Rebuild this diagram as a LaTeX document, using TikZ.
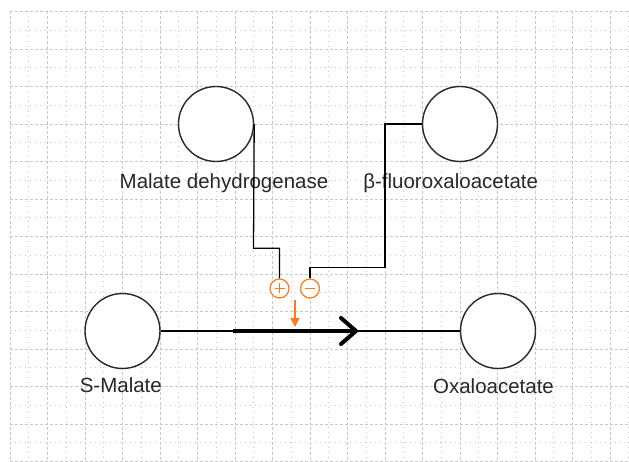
\documentclass[tikz,border=0pt]{standalone}
\usepackage{fontspec}
\setmainfont{Liberation Sans}
\usetikzlibrary{arrows.meta,calc}
\definecolor{gridc}{RGB}{200,200,200}
\definecolor{effc}{RGB}{255,122,30}
\definecolor{inkc}{RGB}{40,40,40}
\tikzset{
  majorgrid/.style={gridc, line width=0.9pt, dash pattern=on 3pt off 2pt},
  minorgrid/.style={gridc, line width=0.9pt, dash pattern=on 1pt off 4pt},
  species/.style={circle, draw=inkc, fill=white, line width=1.4pt, minimum size=75pt, inner sep=0pt},
  effector/.style={circle, draw=effc, fill=white, line width=1.2pt, minimum size=19pt, inner sep=0pt},
  caption/.style={anchor=base, text=inkc, inner sep=0pt, font=\fontsize{20.5}{24}\selectfont},
  link/.style={black, line width=1.3pt},
  reaction/.style={black, line width=4pt, -{Straight Barb[length=15pt, width=26pt, line cap=round, line join=round]}},
  influence/.style={effc, line width=1.5pt, -{Triangle[length=9pt, width=9pt]}}
}
\begin{document}
\begin{tikzpicture}[x=1pt, y=-1pt]
\useasboundingbox (0,0) rectangle (629,462);
\fill[white] (0,0) rectangle (629,462);

% background grid: dashed major lines, dotted mid lines
\foreach \k in {0,...,16} {
  \draw[majorgrid] (10+37.5*\k,11.5) -- (10+37.5*\k,462);
  \draw[minorgrid] (28.75+37.5*\k,11.5) -- (28.75+37.5*\k,462);
}
\foreach \k in {0,...,12} {
  \draw[majorgrid] (10,11.5+37.5*\k) -- (629,11.5+37.5*\k);
}
\foreach \k in {0,...,11} {
  \draw[minorgrid] (10,30.25+37.5*\k) -- (629,30.25+37.5*\k);
}

% captions
\node[caption] (lmd) at (224,188.5) {Malate dehydrogenase};
\node[caption] (lfo) at (450.7,188.5) {β-fluoroxaloacetate};
\node[caption] (lsm) at (120.8,392.3) {S-Malate};
\node[caption] (loa) at (493.5,393) {Oxaloacetate};

% species
\node[species] (md) at (216,124) {};
\node[species] (fo) at (460,124) {};
\node[species] (sm) at (122.5,331) {};
\node[species] (oa) at (498,331) {};

% effector markers
\node[effector] (plus) at (279.5,288.5) {};
\node[effector] (minus) at (310,288.5) {};
\draw[effc, line width=1.3pt] ($(plus)+(-5,0)$) -- ($(plus)+(5,0)$) ($(plus)+(0,-5)$) -- ($(plus)+(0,5)$);
\draw[effc, line width=1.3pt] ($(minus)+(-5,0)$) -- ($(minus)+(5,0)$);

% reaction
\coordinate (r1) at (233,331);
\coordinate (r2) at (358,331);
\draw[link] (sm) -- (oa);
\draw[reaction] (r1) -- (r2);

% modifier links
\coordinate (k1) at (253.5,248.3);
\coordinate (k2) at (385,267.3);
\draw[link] (md.east) -- (k1) -| (plus.north);
\draw[link] (fo.west) -| (k2) -| (minus.north);

% combined effect on the reaction
\coordinate (e1) at (295,300);
\coordinate (e2) at (295,327);
\draw[influence] (e1) -- (e2);
\end{tikzpicture}
\end{document}
